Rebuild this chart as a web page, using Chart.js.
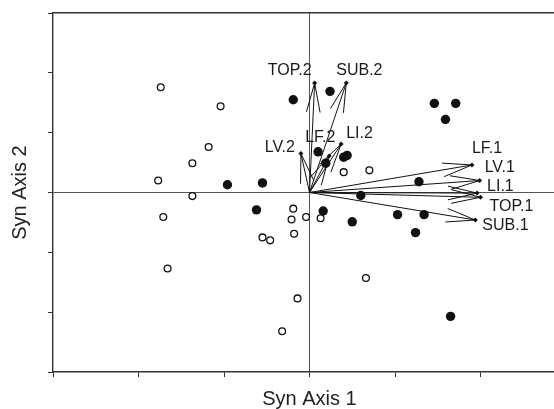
<!DOCTYPE html>
<html>
<head>
<meta charset="utf-8">
<script src="https://cdn.jsdelivr.net/npm/chart.js@4/dist/chart.umd.min.js"></script>
<style>
  html, body { margin: 0; padding: 0; background: #fff; overflow: hidden; }
  /* the original figure is cropped on the right, just before x = 3 */
  #wrap { width: 554px; height: 409px; overflow: hidden; }
  #inner { width: 566px; height: 409px; position: relative; }
</style>
</head>
<body>
<div id="wrap"><div id="inner"><canvas id="biplot"></canvas></div></div>
<script>
// Sites (filled = one group, open = other group)
const filledX = [-0.96, -0.55, -0.62, 0.16, 0.60, 0.50, 1.03, 1.34, 1.24, 1.65,
                 -0.19, 0.24, 1.46, 1.71, 1.59, 0.10, 0.40, 0.44, 0.19, 1.28];
const filledY = [0.13, 0.16, -0.29, -0.31, -0.05, -0.49, -0.37, -0.37, -0.67, -2.07,
                 1.55, 1.69, 1.49, 1.49, 1.22, 0.68, 0.59, 0.62, 0.49, 0.18];
const openX = [-1.74, -1.04, -1.18, -1.37, -1.77, -1.37, -1.71, -1.66, -0.55, -0.46,
               -0.19, -0.21, -0.04, 0.13, -0.18, 0.66, -0.14, -0.32, 0.40, 0.70];
const openY = [1.76, 1.44, 0.76, 0.49, 0.20, -0.06, -0.41, -1.27, -0.75, -0.80,
               -0.27, -0.45, -0.41, -0.43, -0.69, -1.43, -1.77, -2.32, 0.34, 0.37];

// Variable vectors
const varNames = ['LF.1', 'LV.1', 'LI.1', 'TOP.1', 'SUB.1', 'TOP.2', 'SUB.2', 'LV.2', 'LF.2', 'LI.2'];
const varX = [1.90, 1.99, 1.96, 2.00, 1.94, 0.06, 0.43, -0.10, 0.23, 0.37];
const varY = [0.46, 0.20, -0.01, -0.08, -0.46, 1.83, 1.83, 0.65, 0.61, 0.81];

const xTicks = [-3, -2, -1, 0, 1, 2, 3];
const yTicks = [-3, -2, -1, 0, 1, 2, 3];

// label placement next to each arrow tip (pixels)
const labelPlace = {
  'LF.1': [0, -16, 'left'], 'LV.1': [5, -13, 'left'], 'LI.1': [10, -7, 'left'],
  'TOP.1': [9, 9, 'left'], 'SUB.1': [7, 6, 'left'], 'TOP.2': [-3, -12, 'right'],
  'SUB.2': [-10, -12, 'left'], 'LV.2': [-6, -6, 'right'], 'LF.2': [-24, -18, 'left'],
  'LI.2': [5, -10, 'left']
};

const FONT = "'Liberation Sans', Arial, Helvetica, sans-serif";
const toPts = (xs, ys) => xs.map((x, i) => ({ x, y: ys[i] }));

const arrowSets = varNames.map((name, i) => ({
  type: 'line',
  label: name,
  data: [{ x: 0, y: 0 }, { x: varX[i], y: varY[i] }],
  borderColor: '#111',
  borderWidth: 1,
  backgroundColor: '#111',
  pointStyle: 'rectRot',
  pointRadius: ctx => ctx.dataIndex ? 2.5 : 0,
  pointBorderWidth: 0,
  showLine: true,
  order: 0
}));

// arrowheads + variable labels
const arrowPlugin = {
  id: 'arrowHeads',
  afterDatasetsDraw(chart) {
    const { ctx, scales: { x, y } } = chart;
    const x0 = x.getPixelForValue(0), y0 = y.getPixelForValue(0);
    ctx.save();
    ctx.strokeStyle = '#111';
    ctx.lineWidth = 1;
    varNames.forEach((name, i) => {
      const tx = x.getPixelForValue(varX[i]), ty = y.getPixelForValue(varY[i]);
      const ang = Math.atan2(ty - y0, tx - x0);
      const len = 30, spread = 0.23;
      ctx.beginPath();
      ctx.moveTo(tx - len * Math.cos(ang - spread), ty - len * Math.sin(ang - spread));
      ctx.lineTo(tx, ty);
      ctx.lineTo(tx - len * Math.cos(ang + spread), ty - len * Math.sin(ang + spread));
      ctx.stroke();
    });
    ctx.fillStyle = '#1a1a1a';
    ctx.font = '16px ' + FONT;
    ctx.textBaseline = 'middle';
    varNames.forEach((name, i) => {
      const tx = x.getPixelForValue(varX[i]), ty = y.getPixelForValue(varY[i]);
      const [dx, dy, align] = labelPlace[name];
      ctx.textAlign = align;
      ctx.fillText(name, tx + dx, ty + dy);
    });
    ctx.restore();
  }
};

const gridZero = c => c.tick && c.tick.value === 0 ? '#555' : 'rgba(0,0,0,0)';

new Chart(document.getElementById('biplot'), {
  type: 'scatter',
  data: {
    datasets: [
      ...arrowSets,
      {
        label: 'filled',
        data: toPts(filledX, filledY),
        pointRadius: 4.7,
        pointBackgroundColor: '#111',
        pointBorderColor: '#111',
        pointBorderWidth: 0,
        order: 1
      },
      {
        label: 'open',
        data: toPts(openX, openY),
        pointRadius: 3.4,
        pointBackgroundColor: '#fff',
        pointBorderColor: '#111',
        pointBorderWidth: 1.3,
        order: 1
      }
    ]
  },
  options: {
    responsive: true,
    maintainAspectRatio: false,
    animation: false,
    layout: { padding: 0, autoPadding: false },
    plugins: { legend: { display: false }, tooltip: { enabled: false } },
    scales: {
      x: {
        type: 'linear', position: 'bottom', min: -3, max: 3,
        afterBuildTicks: s => { s.ticks = xTicks.map(v => ({ value: v })); },
        afterFit: s => { s.height = 37; },
        ticks: { display: false },
        grid: { color: gridZero, tickColor: '#333', drawTicks: true, tickLength: 5, lineWidth: 1 },
        border: { display: true, color: '#333', width: 1.4 },
        title: {
          display: true, text: 'Syn Axis 1', color: '#222',
          font: { family: FONT, size: 20, lineHeight: 1 }, padding: { top: 0, bottom: 0 }
        }
      },
      xTop: {
        type: 'linear', position: 'top', min: -3, max: 3,
        afterFit: s => { s.height = 13; },
        ticks: { display: false },
        grid: { display: false },
        border: { display: true, color: '#333', width: 1.4 }
      },
      y: {
        type: 'linear', position: 'left', min: -3, max: 3,
        afterBuildTicks: s => { s.ticks = yTicks.map(v => ({ value: v })); },
        afterFit: s => { s.width = 53; },
        ticks: { display: false },
        grid: { color: gridZero, tickColor: '#333', drawTicks: true, tickLength: 5, lineWidth: 1 },
        border: { display: true, color: '#333', width: 1.4 },
        title: {
          display: true, text: 'Syn Axis 2', color: '#222',
          font: { family: FONT, size: 20, lineHeight: 1 }, padding: { top: 10, bottom: 0 }
        }
      }
    }
  },
  plugins: [arrowPlugin]
});
</script>
</body>
</html>
